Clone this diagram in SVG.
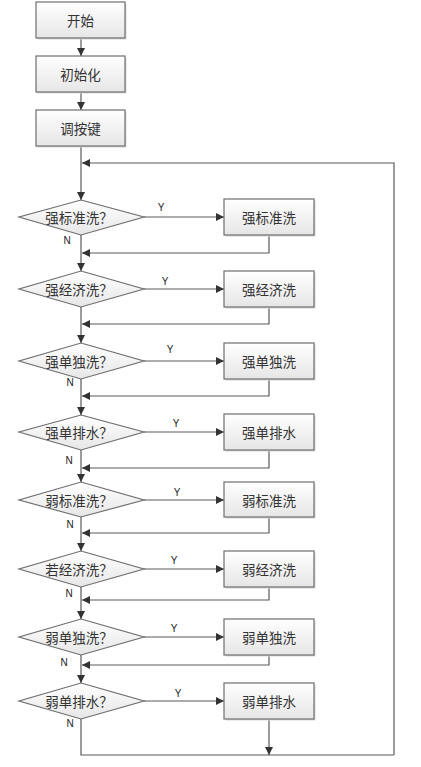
<svg xmlns="http://www.w3.org/2000/svg" width="421" height="767" viewBox="0 0 421 767">
<style>
.box{fill:url(#g);stroke:#6e6e6e;stroke-width:1.2}
.sh{fill:#d8d8d8}
.dia{fill:url(#g);stroke:#6e6e6e;stroke-width:1.2}
.t{font-family:"Noto Sans CJK SC",sans-serif;font-size:13.5px;fill:#333;text-anchor:middle;dominant-baseline:central}
.yn{font-family:"Liberation Sans",Arial,sans-serif;font-size:10px;fill:#222;text-anchor:middle;dominant-baseline:central}
.ln{fill:none;stroke:#5a5a5a;stroke-width:1.2}
.arr{fill:none;stroke:#5a5a5a;stroke-width:1.2;marker-end:url(#a)}
</style>
<defs>
<linearGradient id="g" x1="0" y1="0" x2="0" y2="1">
<stop offset="0" stop-color="#ffffff"/>
<stop offset="1" stop-color="#e6e6e6"/>
</linearGradient>
<marker id="a" viewBox="0 0 8 8" refX="8" refY="4" markerWidth="8" markerHeight="8" markerUnits="userSpaceOnUse" orient="auto">
<path d="M0,0 L8,4 L0,8 Z" fill="#333"/>
</marker>
</defs>
<rect width="421" height="767" fill="#fff"/>

<g id="connectors">
<path class="arr" d="M81,38 V56"/>
<path class="arr" d="M81,92 V110"/>
<path class="arr" d="M81,146 V200"/>
<path class="arr" d="M394,755 V163 H82"/>
<path class="arr" d="M144,217 H224"/>
<path class="arr" d="M269,235 V253 H82"/>
<path class="arr" d="M81,235 V271"/>
<path class="arr" d="M144,289 H224"/>
<path class="arr" d="M269,307 V324 H82"/>
<path class="arr" d="M81,307 V343"/>
<path class="arr" d="M144,361 H224"/>
<path class="arr" d="M269,379 V396 H82"/>
<path class="arr" d="M81,379 V415"/>
<path class="arr" d="M144,432 H224"/>
<path class="arr" d="M269,450 V468 H82"/>
<path class="arr" d="M81,450 V482"/>
<path class="arr" d="M144,500 H224"/>
<path class="arr" d="M269,517 V533 H82"/>
<path class="arr" d="M81,517 V551"/>
<path class="arr" d="M144,569 H224"/>
<path class="arr" d="M269,587 V600 H82"/>
<path class="arr" d="M81,587 V619"/>
<path class="arr" d="M144,637 H224"/>
<path class="arr" d="M269,655 V665 H82"/>
<path class="arr" d="M81,655 V683"/>
<path class="arr" d="M144,701 H224"/>
<path class="ln" d="M81,719 V755 H394"/>
<path class="arr" d="M269,719 V755"/>
<text class="yn" x="161" y="207">Y</text>
<text class="yn" x="165" y="281">Y</text>
<text class="yn" x="170" y="349">Y</text>
<text class="yn" x="176" y="423">Y</text>
<text class="yn" x="177" y="492">Y</text>
<text class="yn" x="174" y="560">Y</text>
<text class="yn" x="174" y="628">Y</text>
<text class="yn" x="178" y="693">Y</text>
<text class="yn" x="67" y="240">N</text>
<text class="yn" x="70" y="382">N</text>
<text class="yn" x="69" y="460">N</text>
<text class="yn" x="70" y="524">N</text>
<text class="yn" x="69" y="593">N</text>
<text class="yn" x="64" y="662">N</text>
<text class="yn" x="70" y="723">N</text>
</g>

<g id="start"><rect class="sh" x="37.5" y="3.5" width="89" height="36"/><rect class="box" x="36" y="2" width="89" height="36"/><text class="t" x="80.5" y="20">开始</text></g>
<g id="init"><rect class="sh" x="37.5" y="57.5" width="89" height="36"/><rect class="box" x="36" y="56" width="89" height="36"/><text class="t" x="80.5" y="74">初始化</text></g>
<g id="key"><rect class="sh" x="37.5" y="111.5" width="89" height="36"/><rect class="box" x="36" y="110" width="89" height="36"/><text class="t" x="80.5" y="128">调按键</text></g>

<g id="d1"><polygon class="dia" points="81,200 144,217 81,235 19,217"/><text class="t" x="79" y="217">强标准洗？</text></g>
<g id="d2"><polygon class="dia" points="81,271 144,289 81,307 19,289"/><text class="t" x="79" y="289">强经济洗？</text></g>
<g id="d3"><polygon class="dia" points="81,343 144,361 81,379 19,361"/><text class="t" x="79" y="361">强单独洗？</text></g>
<g id="d4"><polygon class="dia" points="81,415 144,432 81,450 19,432"/><text class="t" x="79" y="432">强单排水？</text></g>
<g id="d5"><polygon class="dia" points="81,482 144,500 81,517 19,500"/><text class="t" x="79" y="500">弱标准洗？</text></g>
<g id="d6"><polygon class="dia" points="81,551 144,569 81,587 19,569"/><text class="t" x="79" y="569">若经济洗？</text></g>
<g id="d7"><polygon class="dia" points="81,619 144,637 81,655 19,637"/><text class="t" x="79" y="637">弱单独洗？</text></g>
<g id="d8"><polygon class="dia" points="81,683 144,701 81,719 19,701"/><text class="t" x="79" y="701">弱单排水？</text></g>

<g id="b1"><rect class="sh" x="225.5" y="200.5" width="90" height="36"/><rect class="box" x="224" y="199" width="90" height="36"/><text class="t" x="269" y="217">强标准洗</text></g>
<g id="b2"><rect class="sh" x="225.5" y="272.5" width="90" height="36"/><rect class="box" x="224" y="271" width="90" height="36"/><text class="t" x="269" y="289">强经济洗</text></g>
<g id="b3"><rect class="sh" x="225.5" y="344.5" width="90" height="36"/><rect class="box" x="224" y="343" width="90" height="36"/><text class="t" x="269" y="361">强单独洗</text></g>
<g id="b4"><rect class="sh" x="225.5" y="415.5" width="90" height="36"/><rect class="box" x="224" y="414" width="90" height="36"/><text class="t" x="269" y="432">强单排水</text></g>
<g id="b5"><rect class="sh" x="225.5" y="483.5" width="90" height="35"/><rect class="box" x="224" y="482" width="90" height="35"/><text class="t" x="269" y="500">弱标准洗</text></g>
<g id="b6"><rect class="sh" x="225.5" y="552.5" width="90" height="36"/><rect class="box" x="224" y="551" width="90" height="36"/><text class="t" x="269" y="569">弱经济洗</text></g>
<g id="b7"><rect class="sh" x="225.5" y="620.5" width="90" height="36"/><rect class="box" x="224" y="619" width="90" height="36"/><text class="t" x="269" y="637">弱单独洗</text></g>
<g id="b8"><rect class="sh" x="225.5" y="684.5" width="90" height="36"/><rect class="box" x="224" y="683" width="90" height="36"/><text class="t" x="269" y="701">弱单排水</text></g>
</svg>
